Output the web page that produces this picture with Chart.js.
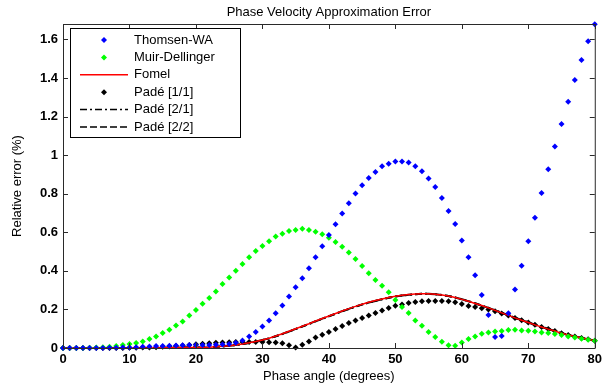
<!DOCTYPE html>
<html>
<head>
<meta charset="utf-8">
<title>Phase Velocity Approximation Error</title>
<script src="https://cdn.jsdelivr.net/npm/chart.js@4.4.1/dist/chart.umd.min.js"></script>
<style>
    html, body { margin: 0; padding: 0; background: #fff; }
    #wrap { width: 606px; height: 389px; }
</style>
</head>
<body>
<div id="wrap"><canvas id="errChart" width="606" height="389"></canvas></div>
<script>
// Phase angle samples (degrees)
const angles = [
    0, 1, 2, 3, 4, 5, 6, 7, 8, 9,
    10, 11, 12, 13, 14, 15, 16, 17, 18, 19,
    20, 21, 22, 23, 24, 25, 26, 27, 28, 29,
    30, 31, 32, 33, 34, 35, 36, 37, 38, 39,
    40, 41, 42, 43, 44, 45, 46, 47, 48, 49,
    50, 51, 52, 53, 54, 55, 56, 57, 58, 59,
    60, 61, 62, 63, 64, 65, 66, 67, 68, 69,
    70, 71, 72, 73, 74, 75, 76, 77, 78, 79,
    80
];

// Relative error (%) for each approximation
const thomsenWA = [
    0, 0, 0, 0, 0, 0, 0, 0.001, 0.001, 0.002,
    0.003, 0.004, 0.006, 0.008, 0.010, 0.011, 0.012, 0.013, 0.014, 0.015,
    0.016, 0.016, 0.016, 0.017, 0.018, 0.021, 0.027, 0.039, 0.060, 0.083,
    0.112, 0.142, 0.180, 0.220, 0.267, 0.315, 0.362, 0.413, 0.470, 0.527,
    0.586, 0.642, 0.697, 0.750, 0.801, 0.844, 0.882, 0.913, 0.942, 0.956,
    0.967, 0.967, 0.962, 0.942, 0.917, 0.879, 0.835, 0.778, 0.711, 0.643,
    0.558, 0.470, 0.377, 0.275, 0.171, 0.057, 0.062, 0.180, 0.303, 0.426,
    0.553, 0.676, 0.804, 0.927, 1.045, 1.162, 1.277, 1.389, 1.493, 1.591,
    1.679
];

const muirDellinger = [
    0, 0, 0, 0, 0.001, 0.002, 0.004, 0.006, 0.010, 0.016,
    0.021, 0.026, 0.034, 0.047, 0.060, 0.078, 0.095, 0.117, 0.138, 0.168,
    0.197, 0.229, 0.259, 0.293, 0.332, 0.366, 0.401, 0.436, 0.470, 0.503,
    0.529, 0.553, 0.578, 0.593, 0.607, 0.612, 0.618, 0.612, 0.603, 0.590,
    0.572, 0.550, 0.525, 0.495, 0.462, 0.425, 0.387, 0.352, 0.323, 0.289,
    0.249, 0.213, 0.182, 0.143, 0.116, 0.083, 0.057, 0.033, 0.014, 0.012,
    0.029, 0.047, 0.060, 0.074, 0.081, 0.086, 0.088, 0.093, 0.095, 0.091,
    0.090, 0.086, 0.081, 0.078, 0.073, 0.067, 0.060, 0.055, 0.048, 0.043,
    0.038
];

const fomel = [
    0, 0, 0, 0, 0, 0, 0, 0, 0, 0,
    0, 0, 0, 0, 0, 0.001, 0.001, 0.001, 0.002, 0.002,
    0.002, 0.003, 0.004, 0.006, 0.009, 0.012, 0.016, 0.021, 0.027, 0.034,
    0.042, 0.051, 0.062, 0.074, 0.087, 0.100, 0.113, 0.126, 0.140, 0.153,
    0.166, 0.179, 0.192, 0.204, 0.216, 0.227, 0.237, 0.246, 0.254, 0.262,
    0.268, 0.273, 0.277, 0.280, 0.281, 0.281, 0.279, 0.275, 0.270, 0.262,
    0.252, 0.242, 0.231, 0.220, 0.208, 0.195, 0.182, 0.169, 0.156, 0.144,
    0.132, 0.120, 0.109, 0.098, 0.088, 0.076, 0.068, 0.060, 0.052, 0.045,
    0.038
];

const pade11 = [
    0, 0, 0, 0, 0, 0, 0, 0, 0, 0,
    0.001, 0.001, 0.002, 0.003, 0.004, 0.006, 0.008, 0.010, 0.013, 0.016,
    0.019, 0.022, 0.025, 0.027, 0.029, 0.030, 0.031, 0.031, 0.031, 0.031,
    0.031, 0.030, 0.029, 0.025, 0.014, 0.003, 0.017, 0.034, 0.054, 0.069,
    0.083, 0.099, 0.114, 0.129, 0.143, 0.156, 0.169, 0.182, 0.195, 0.208,
    0.219, 0.226, 0.233, 0.239, 0.242, 0.244, 0.244, 0.244, 0.242, 0.237,
    0.228, 0.218, 0.212, 0.206, 0.199, 0.190, 0.179, 0.168, 0.156, 0.144,
    0.132, 0.120, 0.109, 0.098, 0.088, 0.077, 0.068, 0.060, 0.052, 0.045,
    0.038
];

const pade21 = [
    0, 0, 0, 0, 0, 0, 0, 0, 0, 0,
    0, 0, 0, 0, 0, 0.001, 0.001, 0.001, 0.002, 0.002,
    0.002, 0.003, 0.004, 0.006, 0.008, 0.011, 0.015, 0.020, 0.026, 0.033,
    0.041, 0.050, 0.061, 0.072, 0.085, 0.098, 0.111, 0.124, 0.138, 0.151,
    0.164, 0.177, 0.190, 0.202, 0.214, 0.225, 0.235, 0.244, 0.253, 0.261,
    0.267, 0.272, 0.276, 0.279, 0.281, 0.281, 0.279, 0.275, 0.270, 0.262,
    0.253, 0.243, 0.232, 0.220, 0.208, 0.196, 0.183, 0.170, 0.157, 0.145,
    0.133, 0.121, 0.110, 0.099, 0.088, 0.077, 0.068, 0.060, 0.052, 0.045,
    0.038
];

const pade22 = [
    0, 0, 0, 0, 0, 0, 0, 0, 0, 0,
    0, 0, 0, 0, 0, 0.001, 0.001, 0.001, 0.002, 0.002,
    0.002, 0.003, 0.004, 0.006, 0.009, 0.012, 0.016, 0.021, 0.027, 0.033,
    0.041, 0.050, 0.061, 0.073, 0.086, 0.099, 0.112, 0.125, 0.139, 0.152,
    0.165, 0.178, 0.191, 0.203, 0.215, 0.226, 0.236, 0.245, 0.253, 0.261,
    0.267, 0.272, 0.276, 0.279, 0.281, 0.281, 0.279, 0.275, 0.270, 0.262,
    0.252, 0.242, 0.231, 0.220, 0.208, 0.195, 0.182, 0.169, 0.156, 0.144,
    0.132, 0.120, 0.109, 0.098, 0.088, 0.076, 0.068, 0.060, 0.052, 0.045,
    0.038
];

// Axis ticks
const xTicks = [0, 10, 20, 30, 40, 50, 60, 70, 80];
const yTicks = [0, 0.2, 0.4, 0.6, 0.8, 1.0, 1.2, 1.4, 1.6];
const yTickLabels = ['0', '0.2', '0.4', '0.6', '0.8', '1', '1.2', '1.4', '1.6'];

const FONT = "'Liberation Sans', Arial, sans-serif";

function pairs(ys) {
    return angles.map((a, i) => ({ x: a, y: ys[i] }));
}

function markerSet(label, ys, color) {
    return {
        label: label,
        data: pairs(ys),
        showLine: false,
        clip: 4,
        pointStyle: 'rectRot',
        pointRadius: 3,
        pointBorderWidth: 0,
        pointBackgroundColor: color,
        borderColor: color,
        backgroundColor: color
    };
}

function lineSet(label, ys, color, dash, width) {
    return {
        label: label,
        data: pairs(ys),
        showLine: true,
        pointRadius: 0,
        borderWidth: width,
        borderColor: color,
        backgroundColor: color,
        borderDash: dash,
        tension: 0
    };
}

// MATLAB style box: frame plus inward tick marks on all four sides, then the legend
const axesBox = {
    id: 'axesBox',
    afterDatasetsDraw(chart) {
        const { ctx, chartArea: a, scales } = chart;
        ctx.save();
        ctx.strokeStyle = '#2a2a2a';
        ctx.lineWidth = 1;
        ctx.beginPath();
        ctx.rect(a.left + 0.5, a.top + 0.5, a.right - a.left, a.bottom - a.top);
        ctx.stroke();

        const tl = 5;
        ctx.beginPath();
        xTicks.forEach(v => {
            const px = Math.round(scales.x.getPixelForValue(v)) + 0.5;
            ctx.moveTo(px, a.bottom); ctx.lineTo(px, a.bottom - tl);
            ctx.moveTo(px, a.top); ctx.lineTo(px, a.top + tl);
        });
        yTicks.forEach(v => {
            const py = Math.round(scales.y.getPixelForValue(v)) + 0.5;
            ctx.moveTo(a.left, py); ctx.lineTo(a.left + tl, py);
            ctx.moveTo(a.right, py); ctx.lineTo(a.right - tl, py);
        });
        ctx.stroke();

        // legend
        const bx = a.left + 7, by = a.top + 4, bw = 170, bh = 109;
        ctx.fillStyle = '#fff';
        ctx.fillRect(bx, by, bw, bh);
        ctx.strokeStyle = '#000';
        ctx.strokeRect(bx + 0.5, by + 0.5, bw, bh);
        ctx.font = '13px ' + FONT;
        ctx.textBaseline = 'middle';
        chart.data.datasets.forEach((ds, i) => {
            const ry = by + 12 + i * 17.4;
            const x0 = bx + 10, x1 = bx + 58;
            if (ds.showLine) {
                ctx.strokeStyle = ds.borderColor;
                ctx.lineWidth = 1.5;
                ctx.setLineDash(ds.borderDash || []);
                ctx.beginPath();
                ctx.moveTo(x0, ry); ctx.lineTo(x1, ry);
                ctx.stroke();
                ctx.setLineDash([]);
            } else {
                const cx = (x0 + x1) / 2, r = ds.pointRadius;
                ctx.fillStyle = ds.pointBackgroundColor;
                ctx.beginPath();
                ctx.moveTo(cx - r, ry); ctx.lineTo(cx, ry - r);
                ctx.lineTo(cx + r, ry); ctx.lineTo(cx, ry + r);
                ctx.closePath();
                ctx.fill();
            }
            ctx.fillStyle = '#000';
            ctx.textAlign = 'left';
            ctx.fillText(ds.label, bx + 64, ry);
        });
        ctx.restore();
    },
    afterDraw(chart) {
        const { ctx, chartArea: a } = chart;
        const cx = (a.left + a.right) / 2;
        ctx.save();
        ctx.fillStyle = '#000';
        ctx.textAlign = 'center';
        ctx.textBaseline = 'middle';
        ctx.font = '13px ' + FONT;
        ctx.fillText('Phase Velocity Approximation Error', cx, 12);
        ctx.fillText('Phase angle (degrees)', cx, 376);
        ctx.translate(17, (a.top + a.bottom) / 2);
        ctx.rotate(-Math.PI / 2);
        ctx.fillText('Relative error (%)', 0, 0);
        ctx.restore();
    }
};

const ctx = document.getElementById('errChart').getContext('2d');
const errChart = new Chart(ctx, {
    type: 'scatter',
    data: {
        datasets: [
            markerSet('Thomsen-WA', thomsenWA, '#0000ff'),
            markerSet('Muir-Dellinger', muirDellinger, '#00ff00'),
            lineSet('Fomel', fomel, '#ff0000', [], 1.5),
            markerSet('Padé [1/1]', pade11, '#000000'),
            lineSet('Padé [2/1]', pade21, '#000000', [7, 3, 2, 3], 2),
            lineSet('Padé [2/2]', pade22, '#000000', [7, 3], 2)
        ]
    },
    options: {
        responsive: false,
        animation: false,
        layout: { padding: { top: 24, right: 6, left: 0, bottom: 0 } },
        plugins: {
            legend: { display: false },
            title: { display: false },
            tooltip: { enabled: false }
        },
        scales: {
            x: {
                type: 'linear',
                min: 0,
                max: 80,
                afterBuildTicks: s => { s.ticks = xTicks.map(v => ({ value: v })); },
                afterFit: s => { s.height = 41; },
                grid: { display: false, drawTicks: false },
                border: { display: false },
                ticks: {
                    color: '#000',
                    padding: 4,
                    maxRotation: 0,
                    font: { family: FONT, size: 13, weight: 'bold' }
                }
            },
            y: {
                type: 'linear',
                min: 0,
                max: 1.68,
                afterBuildTicks: s => { s.ticks = yTicks.map(v => ({ value: v })); },
                afterFit: s => { s.width = 63; },
                grid: { display: false, drawTicks: false },
                border: { display: false },
                ticks: {
                    color: '#000',
                    padding: 5,
                    font: { family: FONT, size: 13, weight: 'bold' },
                    callback: (v, i) => yTickLabels[i]
                }
            }
        }
    },
    plugins: [axesBox]
});
</script>
</body>
</html>
